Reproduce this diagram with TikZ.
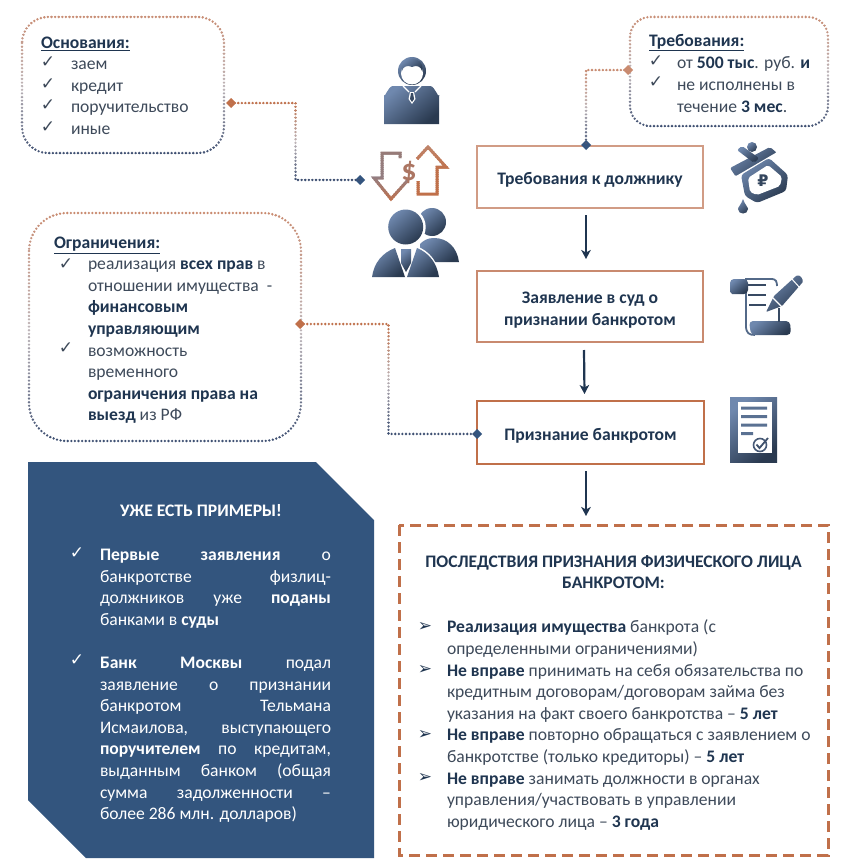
\documentclass[tikz,border=0pt]{standalone}
\usepackage{fontspec}
\setmainfont{Carlito}
\newfontfamily\djv{DejaVu Sans}
\usetikzlibrary{shapes.geometric,arrows.meta,calc}
\definecolor{ink}{HTML}{1F3550}
\definecolor{body}{HTML}{3E4A5A}
\definecolor{navy}{HTML}{34557F}
\definecolor{panel}{HTML}{33557E}
\definecolor{ora}{HTML}{C0704A}
\definecolor{oral}{HTML}{C98A6F}
\definecolor{midg}{HTML}{BDB4B8}
\definecolor{dnavy}{HTML}{33476C}
\definecolor{icl}{HTML}{6F88AE}
\definecolor{icd}{HTML}{2A3A50}
\newcommand\fs{\fontsize{17.6}{21.6}\selectfont}
\newcommand\gradstroke[7]{%
  \foreach \k in {0,...,23}{%
    \pgfmathsetmacro\ya{#4+(#5-#4)*\k/24}%
    \pgfmathsetmacro\yb{#4+(#5-#4)*(\k+1)/24}%
    \ifnum\k<12
      \pgfmathtruncatemacro\pc{100-100*\k/12}%
      \colorlet{gc}{#1!\pc!#2}%
    \else
      \pgfmathtruncatemacro\pc{100-100*(\k-12)/12}%
      \colorlet{gc}{#2!\pc!#3}%
    \fi
    \begin{scope}
      \clip (0,\ya) rectangle (857,\yb);
      \draw[#6,gc] #7;
    \end{scope}%
  }%
}
\newcommand\jl[1]{\makebox[231pt][s]{#1}}
\newcommand\lw{\rule{0pt}{18.5pt}}
\tikzset{
  x=1pt,y=-1pt,
  dotline/.style={line width=2.6pt,line cap=round,dash pattern=on 0pt off 3.6pt},
  hold/.style={inner sep=0pt,outer sep=0pt},
  txt/.style={inner sep=0pt,outer sep=0pt,anchor=north west,align=left,font=\fs,text=body},
  ttl/.style={txt,text=ink,font=\fs\bfseries},
  chk/.style={inner sep=0pt,outer sep=0pt,font=\djv\fontsize{17}{17}\selectfont,text=#1},
  chk/.default=body,
  bul/.style={inner sep=0pt,outer sep=0pt,font=\djv\fontsize{17}{17}\selectfont,text=ink},
  dia/.style={diamond,inner sep=0pt,outer sep=0pt,minimum width=10pt,minimum height=10pt,fill=#1},
  step box/.style={draw=#1,line width=2pt,fill=white,inner sep=0pt,align=center,font=\fs\bfseries,text=ink},
  flow/.style={draw=ink,line width=2.2pt,-{Stealth[length=9pt,width=9.5pt,inset=2.5pt]}},
  ic/.style={bottom color=icd,top color=icl,shading angle=40,draw=none},
}
\begin{document}
\begin{tikzpicture}
\useasboundingbox (0,0) rectangle (857,867);
\fill[white] (0,0) rectangle (857,867);

% rounded dotted boxes
\node[hold,minimum width=202pt,minimum height=136pt] (osn) at (123,85) {};
\node[hold,minimum width=272pt,minimum height=228pt] (ogr) at (165,327) {};
\node[hold,minimum width=198pt,minimum height=109pt] (treb) at (729,71.5) {};
\gradstroke{oral}{midg}{dnavy}{10}{160}{dotline,rounded corners=26pt}{(osn.north west) rectangle (osn.south east)}
\gradstroke{oral}{midg}{dnavy}{205}{448}{dotline,rounded corners=38pt}{(ogr.north west) rectangle (ogr.south east)}
\gradstroke{oral}{midg}{dnavy}{10}{132}{dotline,rounded corners=20pt}{(treb.north west) rectangle (treb.south east)}

% flow boxes
\node[step box=oral!85!white,minimum width=226pt,minimum height=62pt] (r1) at (590,177) {\lw Требования к должнику};
\node[step box=oral,minimum width=226pt,minimum height=71pt] (r2) at (590,306.5) {\lw Заявление в суд о\\признании банкротом};
\node[step box=ora,minimum width=227pt,minimum height=63pt] (r3) at (590.5,432.5) {\lw Признание банкротом};

% consequences frame
\node[hold,minimum width=429pt,minimum height=330pt] (cons) at (613.5,690) {};
\draw[ora,line width=3pt,dash pattern=on 11pt off 6pt] (cons.north west) rectangle (cons.south east);

% flow arrows
\draw[flow] ([xshift=-4pt,yshift=-6pt]r1.south) -- ([xshift=-4pt,yshift=11pt]r2.north);
\draw[flow] ([xshift=-6pt,yshift=-7pt]r2.south) -- ([xshift=-6pt,yshift=6pt]r3.north);
\draw[flow] ([xshift=-4.5pt,yshift=-6pt]r3.south) -- ([xshift=-27.5pt,yshift=9pt]cons.north);

% dotted connectors
\node[dia=ora] (d1) at (231,103) {};
\node[dia=navy] (d2) at (360,180) {};
\node[dia=oral] (d3) at (628,70) {};
\node[dia=navy] (d4) at (586,145) {};
\node[dia=ora] (d5) at (300,324) {};
\node[dia=navy] (d6) at (477,434) {};
\gradstroke{ora}{midg}{dnavy}{100}{183}{dotline}{(d1.center) -| ($(d1)!0.5!(d2)$) |- (d2.center)}
\gradstroke{oral}{midg}{dnavy}{67}{148}{dotline}{(d3.center) -| (d4.center)}
\gradstroke{ora}{midg}{dnavy}{321}{437}{dotline}{(d5.center) -| ($(d5)!0.5!(d6)$) |- (d6.center)}

% box texts
\node[ttl] (t1) at (41,37) {\underline{Основания:}};
\node[txt] (t1l) at (71,61) {заем\\кредит\\поручительство\\иные};
\foreach \n/\y in {a/62,b/84,c/105,d/127}{\node[chk] (c1\n) at (48,\y) {✓};}
\node[ttl] (t2) at (54,237) {\underline{Ограничения:}};
\node[txt] (t2l) at (88,261) {реализация {\bfseries\color{ink}всех прав} в\\отношении имущества\ \ -\\{\bfseries\color{ink}финансовым}\\{\bfseries\color{ink}управляющим}\\возможность\\временного\\{\bfseries\color{ink}ограничения права на}\\{\bfseries\color{ink}выезд} из РФ};
\foreach \n/\y in {a/264,b/348}{\node[chk] (c2\n) at (66,\y) {✓};}
\node[ttl] (t3) at (649,34) {\underline{Требования:}};
\node[txt] (t3l) at (677,57) {от {\bfseries\color{ink}500 тыс}. руб. {\bfseries\color{ink}и}\\не исполнены в\\течение {\bfseries\color{ink}3 мес}.};
\foreach \n/\y in {a/61,b/82}{\node[chk] (c3\n) at (656,\y) {✓};}

% dark panel
\node[hold] (pn) at (201,660) {};
\fill[panel] (28,462) -- (316,462) -- (374,520) -- (374,858) -- (86,858) -- (28,800) -- cycle;
\node[inner sep=0pt,font=\fs\bfseries,text=white] (ph) at (201,511) {УЖЕ ЕСТЬ ПРИМЕРЫ!};
\node[txt,text=white] (pt) at (100,549) {\jl{{\bfseries Первые заявления} о}\\\jl{банкротстве физлиц-}\\\jl{должников уже {\bfseries поданы}}\\банками в {\bfseries суды}\\[21.6pt]\jl{{\bfseries Банк Москвы} подал}\\\jl{заявление о признании}\\\jl{банкротом Тельмана}\\\jl{Исмаилова, выступающего}\\\jl{{\bfseries поручителем} по кредитам,}\\\jl{выданным банком (общая}\\\jl{сумма задолженности --}\\более 286 млн. долларов)};
\node[chk=white] (pc1) at (77,553) {✓};
\node[chk=white] (pc2) at (77,660) {✓};

% consequences text
\node[inner sep=0pt,align=center,font=\fs\bfseries,text=ink] (ch) at (613.5,572) {ПОСЛЕДСТВИЯ ПРИЗНАНИЯ ФИЗИЧЕСКОГО ЛИЦА\\БАНКРОТОМ:};
\node[txt] (cl) at (447,620) {{\bfseries\color{ink}Реализация имущества} банкрота (с\\определенными ограничениями)\\{\bfseries\color{ink}Не вправе} принимать на себя обязательства по\\кредитным договорам/договорам займа без\\указания на факт своего банкротства -- {\bfseries\color{ink}5 лет}\\{\bfseries\color{ink}Не вправе} повторно обращаться с заявлением о\\банкротстве (только кредиторы) -- {\bfseries\color{ink}5 лет}\\{\bfseries\color{ink}Не вправе} занимать должности в органах\\управления/участвовать в управлении\\юридического лица -- {\bfseries\color{ink}3 года}};
\foreach \n/\y in {a/627,b/670,c/735,d/778}{\node[bul] (cb\n) at (425,\y) {➢};}

% --- icons ---
% single person
\shade[ic] (384,124) -- (384,95) to[out=-90,in=180] (393,86) -- (430,86) to[out=0,in=-90] (439,95) -- (439,124) -- cycle;
\shade[ic] (412,71) circle (14);
\fill[white] (412,73.5) circle (11);
\shade[ic] (402,71) .. controls (403,66) and (408,65) .. (412,67) .. controls (416,65) and (421,66) .. (422,71) .. controls (424,62) and (418,59) .. (412,59) .. controls (406,59) and (400,62) .. (402,71) -- cycle;
\draw[white,line width=1.2pt] (403,86) -- (409,92) (421,86) -- (415,92);
\fill[white] (410,92) -- (414,92) -- (415.5,99) -- (412,104) -- (408.5,99) -- cycle;
\fill[icd!80!icl] (411,93) -- (413,93) -- (414,99) -- (412,102) -- (410,99) -- cycle;

% up/down arrows with dollar
\gradstroke{icl!60!gray}{icl!55!ora}{ora}{150}{202}{line width=3pt,line join=miter}{(400,158) -- (400,153) -- (382,153) -- (382,178) -- (374,178) -- (391,199) -- (408,180)}
\gradstroke{ora!70!midg}{ora}{ora}{145}{196}{line width=3pt,line join=miter}{(417,159) -- (428,147) -- (446,167) -- (437,167) -- (437,194) -- (418,194) -- (418,181)}
\node[inner sep=0pt,font=\fontsize{30}{30}\selectfont\bfseries,text=ora!75!icl] (dollar) at (409,172) {\$};

% two people
\shade[ic] (432,222) circle (14);
\shade[ic] (420,262) -- (459,262) .. controls (457,247) and (447,238) .. (434,238) .. controls (428,238) and (424,240) .. (420,244) -- cycle;
\fill[white] (405.7,227) circle (20);
\shade[ic] (405.7,227) circle (17.5);
\fill[white] (372,277) -- (372,276) .. controls (374,262) and (382,251) .. (396,246) -- (416,246) .. controls (430,251) and (438,262) .. (441,279) -- cycle;
\shade[ic] (372,277) .. controls (374,263) and (382,253) .. (395,248) -- (405,277) -- cycle;
\shade[ic] (439,277) .. controls (437,263) and (429,253) .. (417,248) -- (407,277) -- cycle;
\shade[ic] (401,249) -- (411,249) -- (411,263) -- (406,272) -- (401,263) -- cycle;

% wallet
\shade[ic,rounded corners=2pt] (730,168) -- (770,147) -- (777,153) -- (736,177) -- cycle;
\shade[ic,rounded corners=2pt] (737,150) -- (742,146) -- (759,158) -- (754,163) -- cycle;
\shade[ic] (752,147) circle (5);
\draw[white,line width=1.6pt] (736,177) -- (777,153);
\shade[ic,rounded corners=3pt] (769,158) -- (788,175) -- (786,191) -- (757,203) -- (745,196) -- (741,175) -- cycle;
\fill[white,rounded corners=2pt] (748,178) -- (768,165) -- (782,177) -- (780,186) -- (757,195) -- (750,192) -- cycle;
\node[inner sep=0pt,font=\djv\fontsize{16}{16}\selectfont\bfseries,text=icd!85!icl] (rub) at (763,181) {₽};
\shade[ic] (743,199) .. controls (745,205) and (748,207) .. (748,209) .. controls (748,215) and (738,215) .. (738,209) .. controls (738,207) and (741,205) .. (743,199) -- cycle;

% scroll with pencil
\draw[icl!60!icd,line width=1.8pt] (745,279) -- (772,279) .. controls (776,279) and (777,282) .. (777,286) (746,286) -- (746,326) .. controls (746,333) and (749,335) .. (755,335);
\shade[ic,rounded corners=4pt] (730,279) -- (748,279) -- (748,294) -- (736,294) .. controls (732,294) and (730,291) .. (730,288) -- cycle;
\shade[ic,rounded corners=4pt] (749,321) -- (790,321) -- (791,335) -- (751,335) -- cycle;
\draw[icd!80!icl,line width=1.2pt] (748,285) -- (766,285) (748,295) -- (766,295) (749,305) -- (766,305) (779,308) -- (779,322);
\shade[ic,rounded corners=1pt] (766,312) -- (774,296) -- (796,276) .. controls (800,274) and (804,280) .. (802,283) -- (782,306) -- cycle;
\draw[white,line width=1.4pt] (771,296) -- (783,308);
\draw[white,line width=1pt] (791,278) -- (800,288);

% document
\shade[ic] (730,397) rectangle (777,462);
\fill[white] (738,402) rectangle (772,453);
\fill[icl!70!icd] (741,406.5) rectangle (767,409.5) (741,415) rectangle (767,418) (741,423.5) rectangle (767,426.5) (741,432) rectangle (753,435);
\draw[icd!60!icl,line width=1.6pt] (760,445) circle (6.5);
\draw[icd!70!icl,line width=1.8pt] (756.5,444.5) -- (759.5,448) -- (768,438);
\end{tikzpicture}
\end{document}
